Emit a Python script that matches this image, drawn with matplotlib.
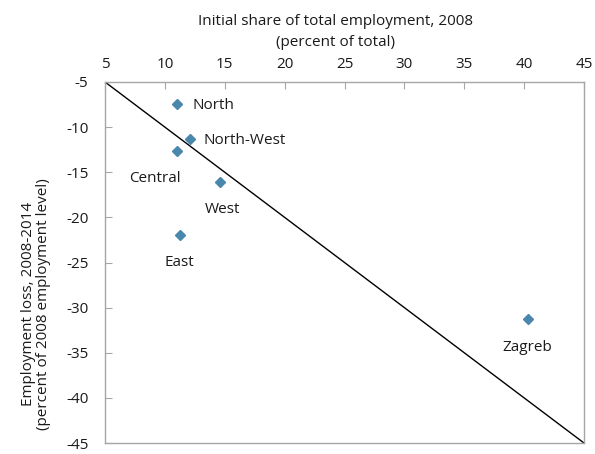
import numpy as np
import matplotlib
matplotlib.use('Agg')
import matplotlib.pyplot as plt

plt.rcParams['font.family'] = ['Open Sans', 'DejaVu Sans']
plt.rcParams['axes.unicode_minus'] = False

# regions: initial share of employment 2008 (x) vs employment loss 2008-2014 (y)
regions = ['North', 'North-West', 'Central', 'West', 'East', 'Zagreb']
share_2008 = [11.0, 12.1, 11.0, 14.6, 11.25, 40.3]
emp_loss = [-7.4, -11.3, -12.6, -16.1, -21.9, -31.3]

# label offsets in points (dx, dy) and alignment
label_pos = {
    'North': (11, -1.5, 'left'),
    'North-West': (10, -1.5, 'left'),
    'Central': (-16, -20, 'center'),
    'West': (2, -19.5, 'center'),
    'East': (0, -20, 'center'),
    'Zagreb': (0, -20, 'center'),
}

fig = plt.figure(figsize=(5.95, 4.54), dpi=100)
ax = fig.add_axes([0.1765, 0.0242, 0.805, 0.7952])

# 45 degree reference line
ref = np.array([5, 45])
ax.plot(ref, -ref, color='black', lw=1.0, zorder=2)

ax.plot(share_2008, emp_loss, 'D', color='#4A87AC', markersize=5.5,
        linestyle='none', zorder=3)

for name, x, y in zip(regions, share_2008, emp_loss):
    dx, dy, ha = label_pos[name]
    ax.annotate(name, (x, y), xytext=(dx, dy), textcoords='offset points',
                ha=ha, va='center', fontsize=11, color='#1a1a1a')

ax.set_xlim(5, 45)
ax.set_ylim(-45, -5)
ax.set_xticks(np.arange(5, 46, 5))
ax.set_yticks(np.arange(-45, -4, 5))

ax.xaxis.tick_top()
ax.xaxis.set_label_position('top')
ax.tick_params(axis='x', direction='in', length=5, color='#a6a6a6',
               labelsize=11, pad=7, labelcolor='#1a1a1a')
ax.tick_params(axis='y', direction='in', length=5, color='#a6a6a6',
               labelsize=11, pad=12, labelcolor='#1a1a1a')
for s in ax.spines.values():
    s.set_color('#a6a6a6')
    s.set_linewidth(1.0)

ax.set_xlabel('Initial share of total employment, 2008\n(percent of total)',
              fontsize=11, color='#1a1a1a', linespacing=1.5)
ax.xaxis.set_label_coords(0.482, 1.09)
ax.xaxis.label.set_va('bottom')
ax.set_ylabel('Employment loss, 2008-2014\n(percent of 2008 employment level)',
              fontsize=11, color='#1a1a1a', linespacing=1.05)
ax.yaxis.set_label_coords(-0.112, 0.385)

fig.savefig('out.png', dpi=100)
